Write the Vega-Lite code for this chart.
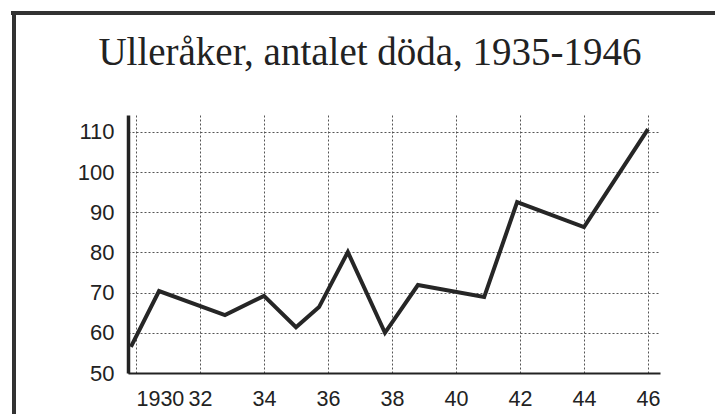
{
  "$schema": "https://vega.github.io/schema/vega-lite/v6.json",
  "width": 532,
  "height": 258,
  "autosize": "none",
  "padding": {"left": 128, "top": 115, "right": 55, "bottom": 41},
  "background": "white",
  "title": {
    "text": "Ulleråker, antalet döda, 1935-1946",
    "font": "Liberation Serif",
    "fontSize": 39,
    "fontWeight": "normal",
    "color": "#222222",
    "baseline": "alphabetic",
    "anchor": "middle",
    "offset": -93,
    "dx": -24
  },
  "config": {"view": {"stroke": null}},
  "data": {
    "values": [
      {"year": 1929.84, "deaths": 56.5},
      {"year": 1930.72, "deaths": 70.4},
      {"year": 1932.78, "deaths": 64.4},
      {"year": 1934.0, "deaths": 69.2},
      {"year": 1935.0, "deaths": 61.4},
      {"year": 1935.72, "deaths": 66.4},
      {"year": 1936.62, "deaths": 80.1},
      {"year": 1937.78, "deaths": 60.0},
      {"year": 1938.81, "deaths": 71.9},
      {"year": 1940.88, "deaths": 68.9},
      {"year": 1941.91, "deaths": 92.5},
      {"year": 1944.0, "deaths": 86.3},
      {"year": 1946.0, "deaths": 110.7}
    ]
  },
  "layer": [
    {
      "mark": {"type": "rule", "color": "#333333", "strokeWidth": 3, "clip": false},
      "encoding": {
        "x": {"datum": 1926.19, "type": "quantitative", "scale": {"domain": [1929.75, 1946.375], "nice": false, "zero": false}},
        "y": {"datum": 139.6, "type": "quantitative", "scale": {"domain": [50, 114.2], "nice": false, "zero": false}},
        "y2": {"datum": 38}
      }
    },
    {
      "mark": {"type": "rule", "color": "#333333", "strokeWidth": 3, "clip": false},
      "encoding": {
        "y": {"datum": 139.6, "type": "quantitative", "scale": {"domain": [50, 114.2], "nice": false, "zero": false}},
        "x": {"datum": 1926.1, "type": "quantitative", "scale": {"domain": [1929.75, 1946.375], "nice": false, "zero": false}},
        "x2": {"datum": 1949}
      }
    },
    {
      "mark": {"type": "line", "color": "#262626", "strokeWidth": 4, "strokeJoin": "miter", "clip": false},
      "encoding": {
        "x": {
          "field": "year",
          "type": "quantitative",
          "scale": {"domain": [1929.75, 1946.375], "nice": false, "zero": false},
          "axis": {
            "title": null,
            "values": [1930, 1932, 1934, 1936, 1938, 1940, 1942, 1944, 1946],
            "grid": true,
            "gridDash": [2, 2],
            "gridColor": "#555555",
            "gridWidth": 1,
            "domainColor": "#222222",
            "domainWidth": 2,
            "ticks": false,
            "tickSize": 0,
            "labelFont": "Liberation Sans",
            "labelFontSize": 21.5,
            "labelColor": "#222222",
            "labelPadding": 15,
            "labelOverlap": false,
            "labelFlush": false,
            "labelExpr": "datum.value == 1930 ? '1930' : substring(toString(datum.value), 2)",
            "labelAlign": {"condition": {"test": "datum.value == 1930", "value": "left"}, "value": "center"}
          }
        },
        "y": {
          "field": "deaths",
          "type": "quantitative",
          "scale": {"domain": [50, 114.2], "nice": false, "zero": false},
          "axis": {
            "title": null,
            "values": [50, 60, 70, 80, 90, 100, 110],
            "grid": true,
            "gridDash": [2, 2],
            "gridColor": "#555555",
            "gridWidth": 1,
            "domainColor": "#222222",
            "domainWidth": 3.5,
            "ticks": false,
            "tickSize": 0,
            "labelFont": "Liberation Sans",
            "labelFontSize": 22,
            "labelColor": "#222222",
            "labelPadding": 14,
            "labelOverlap": false
          }
        }
      }
    }
  ]
}
